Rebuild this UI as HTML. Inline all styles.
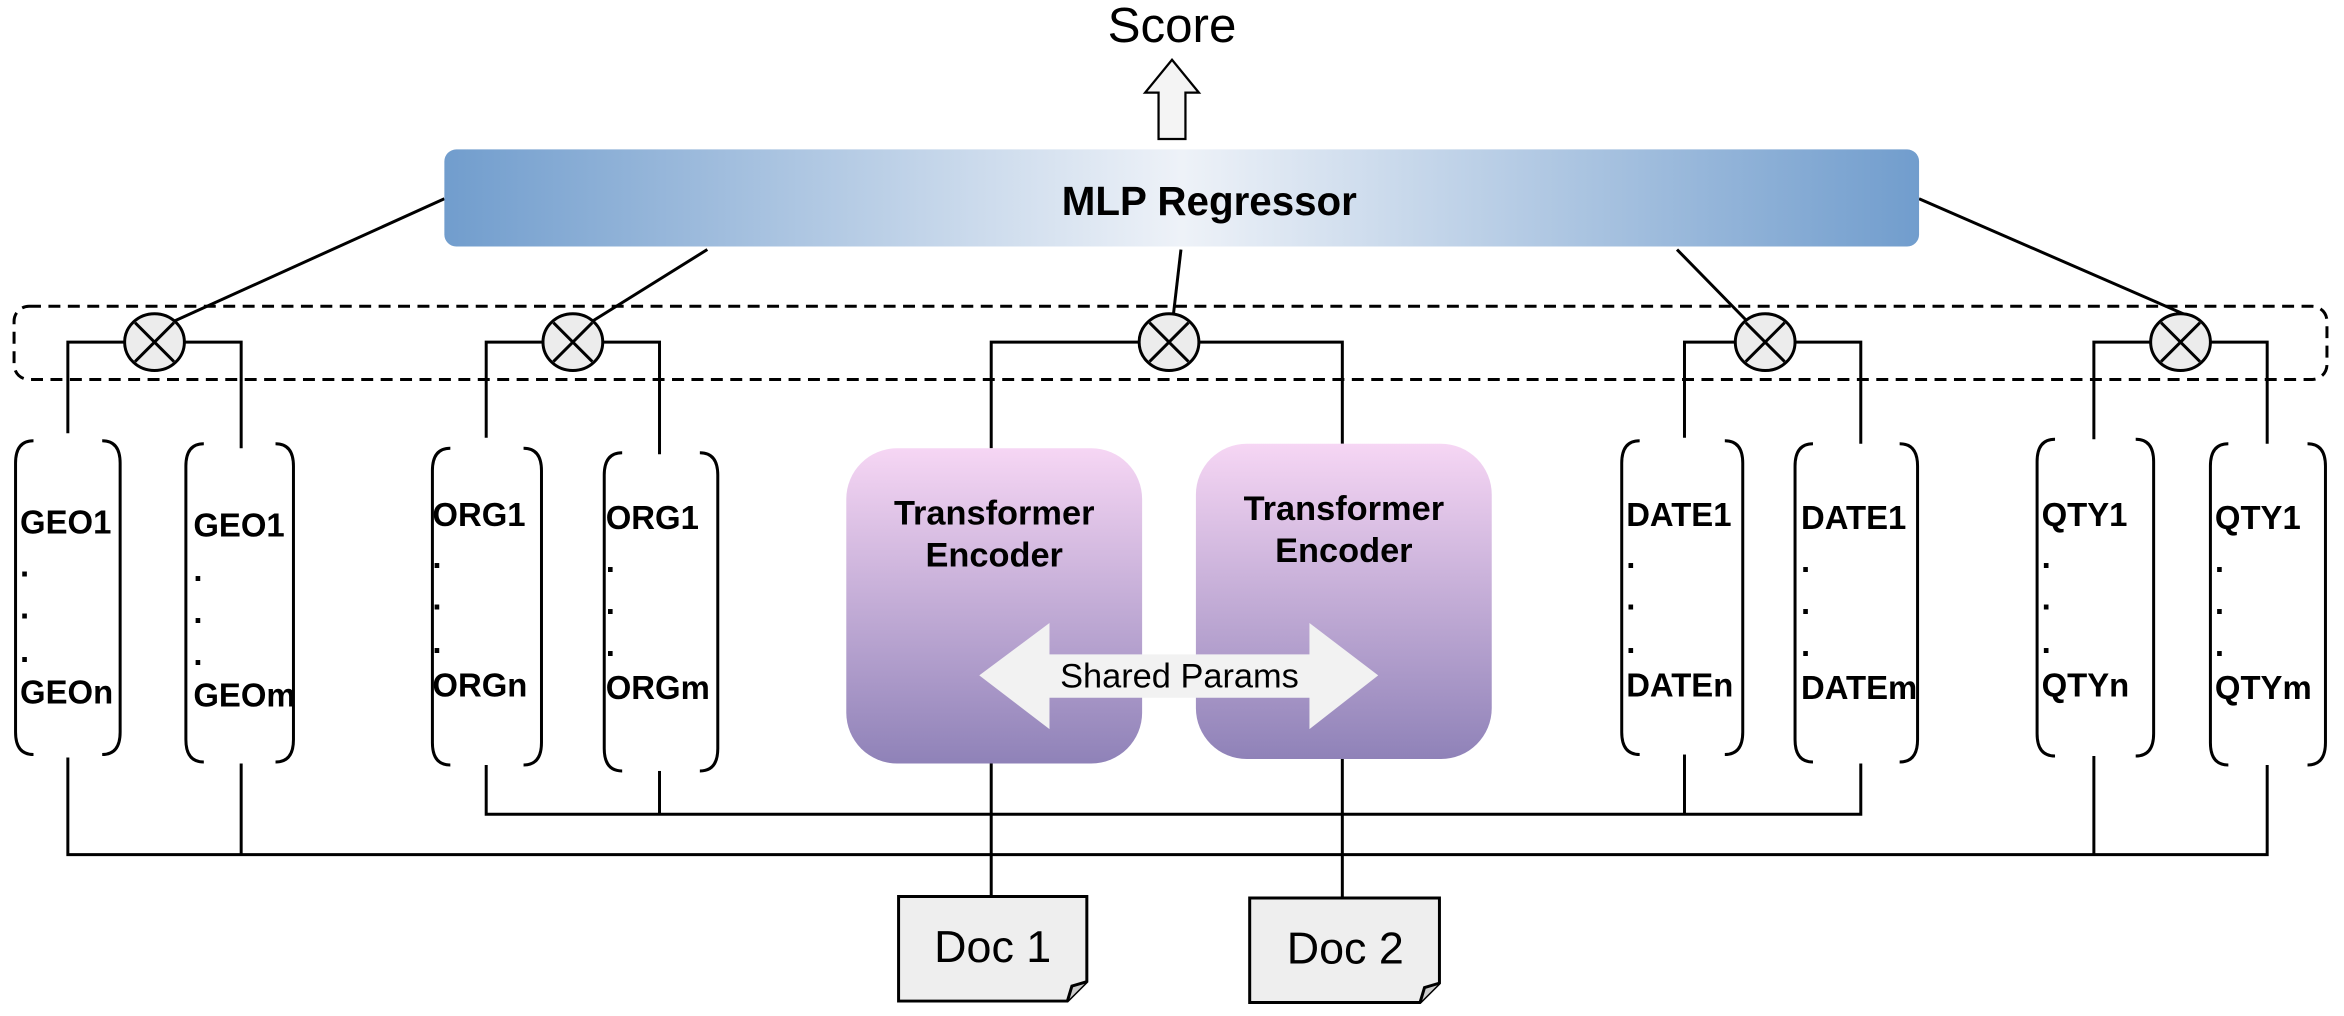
<!DOCTYPE html>
<html><head><meta charset="utf-8"><style>
html,body{margin:0;padding:0;background:#fff;}
svg{display:block;}
text{font-family:"Liberation Sans",Arial,sans-serif;}
</style></head><body>
<svg width="2344" height="1016" viewBox="0 0 1568 680" xmlns="http://www.w3.org/2000/svg">
<defs>
<linearGradient id="mlp" x1="0" y1="0" x2="1" y2="0">
<stop offset="0" stop-color="#719dcd"/><stop offset="0.5" stop-color="#eef2f8"/><stop offset="1" stop-color="#719dcd"/>
</linearGradient>
<linearGradient id="tr" x1="0" y1="0" x2="0" y2="1">
<stop offset="0" stop-color="#f6d6f4"/><stop offset="1" stop-color="#8f82b8"/>
</linearGradient>
</defs>
<g stroke="#000" stroke-width="2" fill="none">
<line x1="297" y1="133" x2="116" y2="215"/>
<line x1="473" y1="167" x2="396" y2="215"/>
<line x1="790" y1="167" x2="785" y2="210"/>
<line x1="1122" y1="167" x2="1168" y2="214"/>
<line x1="1284" y1="133" x2="1470" y2="214"/>
<rect x="9" y="205" width="1548" height="49" rx="10" stroke-dasharray="8,5"/>
<polyline points="45,290 45,229 161,229 161,300"/>
<polyline points="325,293 325,229 441,229 441,304"/>
<polyline points="663,300 663,229 898,229 898,297"/>
<polyline points="1127,293 1127,229 1245,229 1245,297"/>
<polyline points="1401,294 1401,229 1517,229 1517,297"/>
<polyline points="45,507 45,572 1517,572 1517,512"/>
<line x1="161" y1="511" x2="161" y2="572"/>
<line x1="1401" y1="506" x2="1401" y2="572"/>
<polyline points="325,512 325,545 1245,545 1245,511"/>
<line x1="441" y1="516" x2="441" y2="545"/>
<line x1="1127" y1="505" x2="1127" y2="545"/>
<line x1="663" y1="505" x2="663" y2="600"/>
<line x1="898" y1="505" x2="898" y2="601"/>
</g>
<g stroke="#000" stroke-width="2" fill="#ececec">
<g transform="translate(103,229)"><ellipse rx="20" ry="19"/><line x1="-13" y1="-13" x2="13" y2="13"/><line x1="13" y1="-13" x2="-13" y2="13"/></g>
<g transform="translate(383,229)"><ellipse rx="20" ry="19"/><line x1="-13" y1="-13" x2="13" y2="13"/><line x1="13" y1="-13" x2="-13" y2="13"/></g>
<g transform="translate(782,229)"><ellipse rx="20" ry="19"/><line x1="-13" y1="-13" x2="13" y2="13"/><line x1="13" y1="-13" x2="-13" y2="13"/></g>
<g transform="translate(1181,229)"><ellipse rx="20" ry="19"/><line x1="-13" y1="-13" x2="13" y2="13"/><line x1="13" y1="-13" x2="-13" y2="13"/></g>
<g transform="translate(1459,229)"><ellipse rx="20" ry="19"/><line x1="-13" y1="-13" x2="13" y2="13"/><line x1="13" y1="-13" x2="-13" y2="13"/></g>
</g>
<text x="784" y="28" font-size="33" text-anchor="middle">Score</text>
<polygon points="784,40 802,62 793,62 793,93 775,93 775,62 766,62" fill="#f4f4f4" stroke="#000" stroke-width="1.5"/>
<rect x="297" y="100" width="987" height="65" rx="8" fill="url(#mlp)"/>
<text x="809" y="144" font-size="27" font-weight="bold" text-anchor="middle">MLP Regressor</text>
<g stroke="#000" stroke-width="2" fill="none">
<path d="M22,295 Q10,295 10,310 L10,490 Q10,505 22,505 M68,295 Q80,295 80,310 L80,490 Q80,505 68,505"/>
<path d="M136,297 Q124,297 124,312 L124,495 Q124,510 136,510 M184,297 Q196,297 196,312 L196,495 Q196,510 184,510"/>
<path d="M301,300 Q289,300 289,315 L289,497 Q289,512 301,512 M350,300 Q362,300 362,315 L362,497 Q362,512 350,512"/>
<path d="M416,303 Q404,303 404,318 L404,501 Q404,516 416,516 M468,303 Q480,303 480,318 L480,501 Q480,516 468,516"/>
<path d="M1097,295 Q1085,295 1085,310 L1085,490 Q1085,505 1097,505 M1154,295 Q1166,295 1166,310 L1166,490 Q1166,505 1154,505"/>
<path d="M1213,297 Q1201,297 1201,312 L1201,495 Q1201,510 1213,510 M1271,297 Q1283,297 1283,312 L1283,495 Q1283,510 1271,510"/>
<path d="M1375,294 Q1363,294 1363,309 L1363,491 Q1363,506 1375,506 M1429,294 Q1441,294 1441,309 L1441,491 Q1441,506 1429,506"/>
<path d="M1491,297 Q1479,297 1479,312 L1479,497 Q1479,512 1491,512 M1544,297 Q1556,297 1556,312 L1556,497 Q1556,512 1544,512"/>
</g>
<g font-size="22" font-weight="bold">
<text x="13" y="357">GEO1</text><text x="13" y="386">.</text><text x="13" y="414">.</text><text x="13" y="443">.</text><text x="13" y="471">GEOn</text>
<text x="129" y="359">GEO1</text><text x="129" y="389">.</text><text x="129" y="417">.</text><text x="129" y="445">.</text><text x="129" y="473">GEOm</text>
<text x="289" y="352">ORG1</text><text x="289" y="380">.</text><text x="289" y="408">.</text><text x="289" y="437">.</text><text x="289" y="466">ORGn</text>
<text x="405" y="354">ORG1</text><text x="405" y="383">.</text><text x="405" y="411">.</text><text x="405" y="439">.</text><text x="405" y="468">ORGm</text>
<text x="1088" y="352">DATE1</text><text x="1088" y="380">.</text><text x="1088" y="408">.</text><text x="1088" y="437">.</text><text x="1088" y="466">DATEn</text>
<text x="1205" y="354">DATE1</text><text x="1205" y="383">.</text><text x="1205" y="411">.</text><text x="1205" y="439">.</text><text x="1205" y="468">DATEm</text>
<text x="1366" y="352">QTY1</text><text x="1366" y="380">.</text><text x="1366" y="408">.</text><text x="1366" y="437">.</text><text x="1366" y="466">QTYn</text>
<text x="1482" y="354">QTY1</text><text x="1482" y="383">.</text><text x="1482" y="411">.</text><text x="1482" y="439">.</text><text x="1482" y="468">QTYm</text>
</g>
<rect x="566" y="300" width="198" height="211" rx="34" fill="url(#tr)"/>
<rect x="800" y="297" width="198" height="211" rx="34" fill="url(#tr)"/>
<g font-size="23" font-weight="bold" text-anchor="middle">
<text x="665" y="351">Transformer</text><text x="665" y="379">Encoder</text>
<text x="899" y="348">Transformer</text><text x="899" y="376">Encoder</text>
</g>
<polygon points="655,452 702,417 702,438 876,438 876,417 922,452 876,488 876,467 702,467 702,488" fill="#f2f2f2"/>
<text x="789" y="460" font-size="23" text-anchor="middle">Shared Params</text>
<g stroke="#000" stroke-width="2" fill="#eeeeee">
<path d="M601,600 L727,600 L727,657 L714,670 L601,670 Z"/>
<path d="M836,601 L963,601 L963,658 L950,671 L836,671 Z"/>
<path d="M714,670 L717,660 L727,657" fill="#ccc"/>
<path d="M950,671 L953,661 L963,658" fill="#ccc"/>
</g>
<text x="664" y="644" font-size="30" text-anchor="middle">Doc 1</text>
<text x="900" y="645" font-size="30" text-anchor="middle">Doc 2</text>
</svg>
</body></html>
